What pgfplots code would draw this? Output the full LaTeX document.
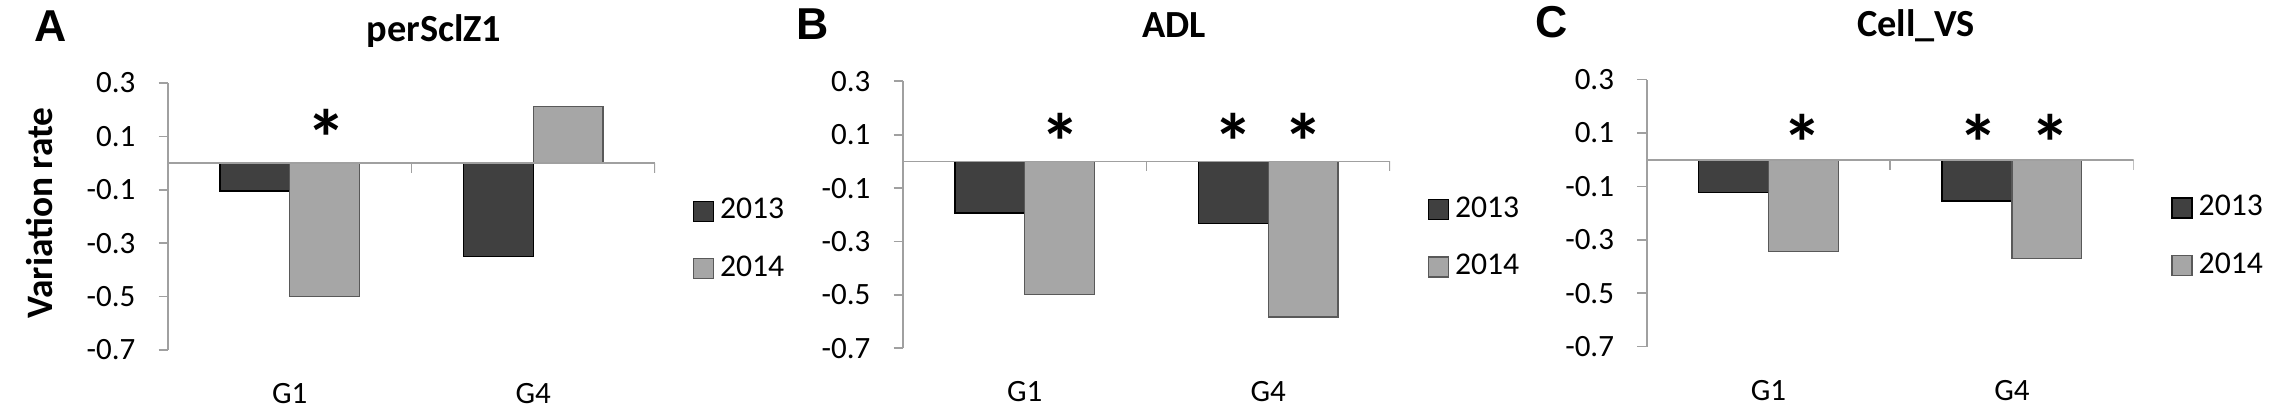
\documentclass[border=0pt]{standalone}
\usepackage{fontspec}
\setmainfont{Carlito}
\newfontfamily\arialfont{Liberation Sans}
\usepackage{pgfplots}
\pgfplotsset{compat=1.18}

\definecolor{dark}{HTML}{404040}
\definecolor{light}{HTML}{A6A6A6}
\definecolor{axgray}{HTML}{A0A0A0}

\pgfplotsset{
  panel/.style={
    width=146.1pt, height=80.1pt, scale only axis, anchor=south west,
    xmin=-0.5, xmax=1.5, ymin=-0.7, ymax=0.3,
    separate axis lines,
    axis y line*=left, axis x line*=bottom,
    y axis line style={axgray, line width=0.5pt, -},
    x axis line style={draw=none},
    xtick={0,1}, xticklabels={G1,G4},
    ytick={-0.7,-0.5,-0.3,-0.1,0.1,0.3},
    yticklabels={-0.7,-0.5,-0.3,-0.1,0.1,0.3},
    xtick style={draw=none},
    ytick style={axgray, line width=0.5pt},
    tick align=outside, major tick length=2.8pt,
    tick label style={font=\fontsize{9.3}{10}\selectfont},
    xticklabel style={anchor=center, inner sep=0pt, yshift=-10.3pt},
    yticklabel style={anchor=east, inner sep=0pt, xshift=-6.8pt},
    legend image code/.code={\draw[##1] (0pt,-3pt) rectangle (6pt,3pt);},
    legend cell align=left,
    legend style={at={(1.076,0.412)}, anchor=west, draw=none, fill=none,
      inner sep=0pt, row sep=9.6pt, column sep=1.8pt,
      nodes={inner sep=0pt}, font=\fontsize{9.5}{10}\selectfont},
  },
  b13/.style={ybar, bar width=0.287, bar shift=-0.1435, fill=dark, draw=black, line width=0.4pt},
  b14/.style={ybar, bar width=0.287, bar shift=0.1435, fill=light, draw=black!65, line width=0.4pt},
}
\tikzset{star/.style={font=\fontsize{24}{24}\bfseries\selectfont, inner sep=0pt, anchor=center}}

\newcommand\zeroline{%
  \draw[axgray, line width=0.5pt] (axis cs:-0.5,0) -- (axis cs:1.5,0);
  \draw[axgray, line width=0.5pt] (axis cs:0.5,0) -- ++(0pt,-3pt);
  \draw[axgray, line width=0.5pt] (axis cs:1.5,0) -- ++(0pt,-3pt);
}

\begin{document}
\begin{tikzpicture}
\useasboundingbox (0,0) rectangle (683.1pt,124.5pt);

% A: perSclZ1
\begin{axis}[panel, at={(50.4pt,19.5pt)}]
  \addplot[b13] coordinates {(0,-0.105) (1,-0.35)};
  \addlegendentry{2013}
  \addplot[b14] coordinates {(0,-0.50) (1,0.211)};
  \addlegendentry{2014}
  \zeroline
  \node[star] at (axis cs:0.15,0.094) {*};
\end{axis}

% B: ADL
\begin{axis}[panel, at={(270.9pt,20pt)}]
  \addplot[b13] coordinates {(0,-0.193) (1,-0.233)};
  \addlegendentry{2013}
  \addplot[b14] coordinates {(0,-0.499) (1,-0.583)};
  \addlegendentry{2014}
  \zeroline
  \node[star] at (axis cs:0.147,0.074) {*};
  \node[star] at (axis cs:0.858,0.074) {*};
  \node[star] at (axis cs:1.143,0.074) {*};
\end{axis}

% C: Cell_VS
\begin{axis}[panel, at={(494pt,20.5pt)}]
  \addplot[b13] coordinates {(0,-0.1225) (1,-0.154)};
  \addlegendentry{2013}
  \addplot[b14] coordinates {(0,-0.344) (1,-0.37)};
  \addlegendentry{2014}
  \zeroline
  \node[star] at (axis cs:0.14,0.064) {*};
  \node[star] at (axis cs:0.864,0.064) {*};
  \node[star] at (axis cs:1.156,0.064) {*};
\end{axis}

% titles, panel letters, y label
\node[anchor=base, inner sep=0pt, font=\fontsize{11.5}{12}\bfseries\selectfont] at (130.2pt,111.9pt) {perSclZ1};
\node[anchor=base, inner sep=0pt, font=\fontsize{11.5}{12}\bfseries\selectfont] at (352.2pt,113.1pt) {ADL};
\node[anchor=base, inner sep=0pt, font=\fontsize{11.5}{12}\bfseries\selectfont] at (574.8pt,113.4pt) {Cell\_VS};
\node[anchor=base west, inner sep=0pt, font=\arialfont\fontsize{13.4}{14}\bfseries\selectfont] at (10.2pt,111.9pt) {A};
\node[anchor=base west, inner sep=0pt, font=\arialfont\fontsize{13.4}{14}\bfseries\selectfont] at (238.8pt,112.5pt) {B};
\node[anchor=base west, inner sep=0pt, font=\arialfont\fontsize{13.4}{14}\bfseries\selectfont] at (460.4pt,113.1pt) {C};
\node[rotate=90, inner sep=0pt, font=\fontsize{11.2}{12}\bfseries\selectfont] at (12pt,60.6pt) {Variation rate};
\end{tikzpicture}
\end{document}
